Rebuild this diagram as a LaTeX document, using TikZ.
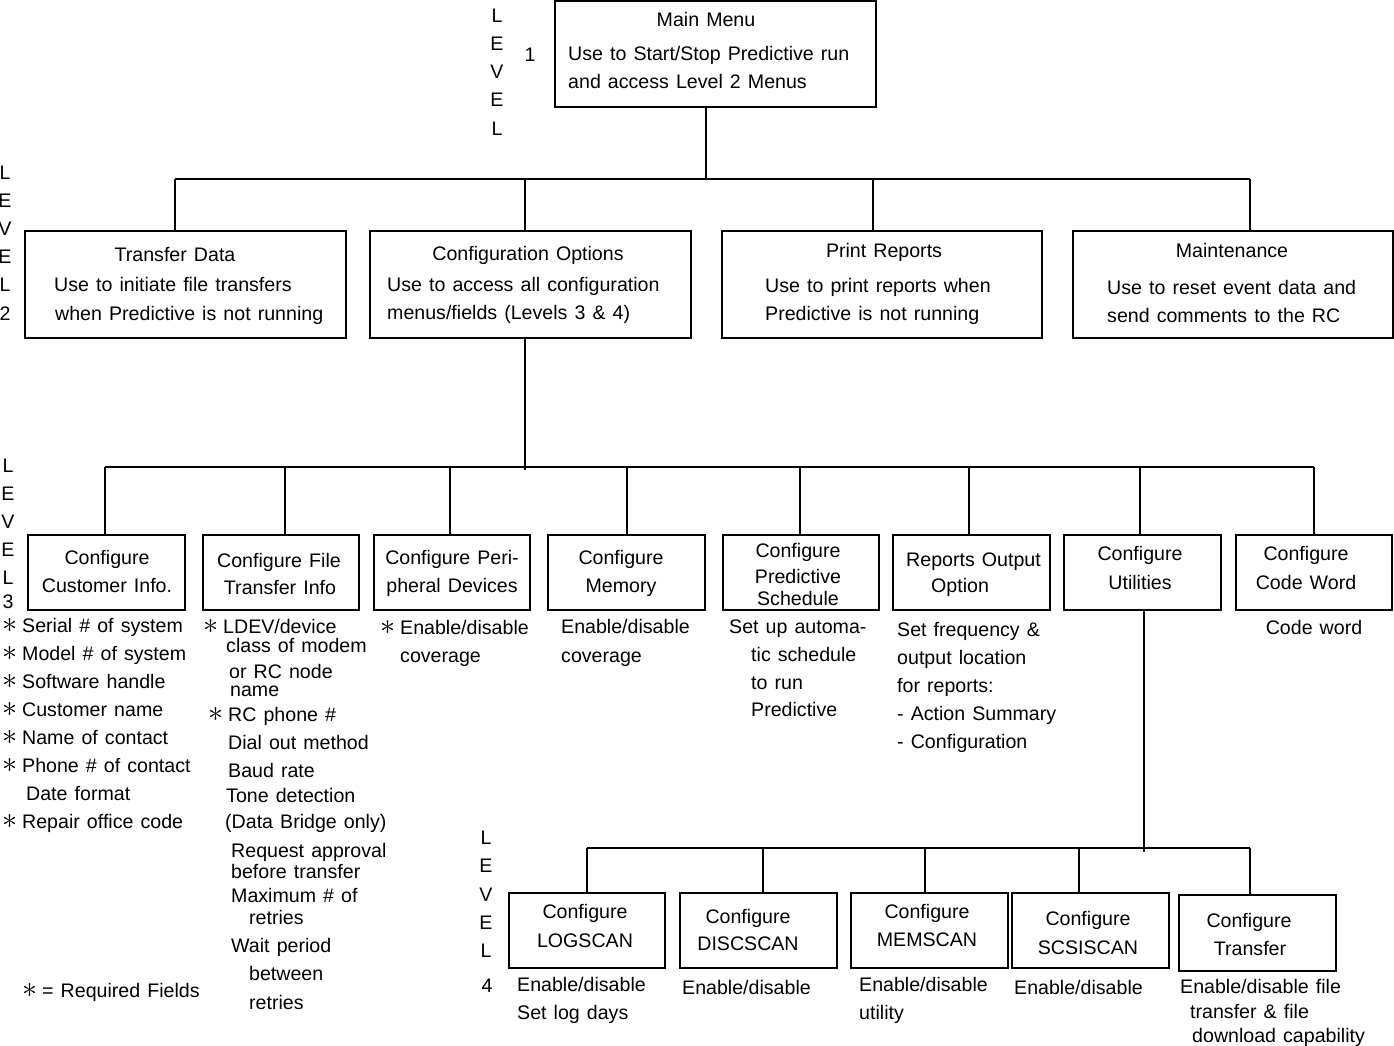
\documentclass[tikz,border=0pt]{standalone}
\usepackage{fontspec}
\setmainfont[WordSpace=1.3]{Liberation Sans}
\newcommand\tf{\fontsize{19.6}{24}\selectfont}
\newcommand\st{\makebox[20pt][l]{\scalebox{1.45}{$\ast$}}}
\tikzset{
  box/.style={draw, line width=1.3pt, inner sep=0pt},
  txt/.style={font=\tf, inner sep=0pt, anchor=base west},
  ctxt/.style={font=\tf, inner sep=0pt, anchor=base},
  conn/.style={line width=1.3pt},
}
\newcommand\bx[5]{\node[box, minimum width={(#4)-(#2)}, minimum height={(#5)-(#3)}] (#1) at ({((#2)+(#4))/2},{((#3)+(#5))/2}) {};}
\newcommand\tl[4]{\node[txt] (#1) at (#2,#3) {#4};}
\newcommand\tc[4]{\node[ctxt] (#1) at (#2,#3) {#4};}
\begin{document}
\begin{tikzpicture}[x=1pt,y=-1pt]
\useasboundingbox (0,0) rectangle (1394,1045);

% ---------- Level labels
\tc{la1}{497}{22}{L}\tc{la2}{497}{50}{E}\tc{la3}{497}{78}{V}\tc{la4}{497}{106}{E}\tc{la5}{497}{135}{L}
\tc{la6}{530}{61}{1}
\tc{lb1}{5}{179}{L}\tc{lb2}{5}{207}{E}\tc{lb3}{5}{235}{V}\tc{lb4}{5}{263}{E}\tc{lb5}{5}{291}{L}\tc{lb6}{5}{320}{2}
\tc{lc1}{8}{472}{L}\tc{lc2}{8}{500}{E}\tc{lc3}{8}{528}{V}\tc{lc4}{8}{556}{E}\tc{lc5}{8}{584}{L}\tc{lc6}{8}{608}{3}
\tc{ld1}{486}{844}{L}\tc{ld2}{486}{872}{E}\tc{ld3}{486}{901}{V}\tc{ld4}{486}{929}{E}\tc{ld5}{486}{957}{L}\tc{ld6}{487}{992}{4}

% ---------- Level 1
\bx{main}{555}{1}{876}{107}
\tc{m0}{706}{26}{Main Menu}
\tl{m1}{568}{60}{Use to Start/Stop Predictive run}
\tl{m2}{568}{88}{and access Level 2 Menus}

% ---------- Level 2
\bx{td}{25}{231}{346}{338}
\bx{co}{370}{231}{691}{338}
\bx{pr}{722}{231}{1042}{338}
\bx{mt}{1073}{231}{1393}{338}
\tc{td0}{175}{261}{Transfer Data}
\tl{td1}{54}{291}{Use to initiate file transfers}
\tl{td2}{55}{320}{when Predictive is not running}
\tc{co0}{528}{260}{Configuration Options}
\tl{co1}{387}{291}{Use to access all configuration}
\tl{co2}{387}{319}{menus/fields (Levels 3 \& 4)}
\tc{pr0}{884}{257}{Print Reports}
\tl{pr1}{765}{292}{Use to print reports when}
\tl{pr2}{765}{320}{Predictive is not running}
\tc{mt0}{1232}{257}{Maintenance}
\tl{mt1}{1107}{294}{Use to reset event data and}
\tl{mt2}{1107}{322}{send comments to the RC}

% ---------- Level 3
\bx{c1}{28}{535}{185}{610}
\bx{c2}{203}{535}{359}{610}
\bx{c3}{374}{535}{530}{610}
\bx{c4}{548}{535}{705}{610}
\bx{c5}{723}{535}{879}{610}
\bx{c6}{893}{535}{1050}{610}
\bx{c7}{1064}{535}{1221}{610}
\bx{c8}{1236}{535}{1392}{610}
\tc{c1a}{107}{564}{Configure}\tc{c1b}{107}{592}{Customer Info.}
\tc{c2a}{279}{567}{Configure File}\tc{c2b}{280}{594}{Transfer Info}
\tc{c3a}{452}{564}{Configure Peri-}\tc{c3b}{452}{592}{pheral Devices}
\tc{c4a}{621}{564}{Configure}\tc{c4b}{621}{592}{Memory}
\tc{c5a}{798}{557}{Configure}\tc{c5b}{798}{583}{Predictive}\tc{c5c}{798}{605}{Schedule}
\tl{c6a}{906}{566}{Reports Output}\tl{c6b}{931}{592}{Option}
\tc{c7a}{1140}{560}{Configure}\tc{c7b}{1140}{589}{Utilities}
\tc{c8a}{1306}{560}{Configure}\tc{c8b}{1306}{589}{Code Word}

% Customer info fields
\tl{f1}{2}{632}{\st Serial \# of system}
\tl{f2}{2}{660}{\st Model \# of system}
\tl{f3}{2}{688}{\st Software handle}
\tl{f4}{2}{716}{\st Customer name}
\tl{f5}{2}{744}{\st Name of contact}
\tl{f6}{2}{772}{\st Phone \# of contact}
\tl{f7}{26}{800}{Date format}
\tl{f8}{2}{828}{\st Repair office code}
\tl{req}{22}{997}{\st= Required Fields}

% File transfer fields
\tl{g1}{203}{633}{\st LDEV/device}
\tl{g2}{226}{652}{class of modem}
\tl{g3}{229}{678}{or RC node}
\tl{g4}{230}{696}{name}
\tl{g5}{208}{721}{\st RC phone \#}
\tl{g6}{228}{749}{Dial out method}
\tl{g7}{228}{777}{Baud rate}
\tl{g8}{226}{802}{Tone detection}
\tl{g9}{225}{828}{(Data Bridge only)}
\tl{g10}{231}{857}{Request approval}
\tl{g11}{231}{878}{before transfer}
\tl{g12}{231}{902}{Maximum \# of}
\tl{g13}{249}{924}{retries}
\tl{g14}{231}{952}{Wait period}
\tl{g15}{249}{980}{between}
\tl{g16}{249}{1009}{retries}

% Peripheral / Memory / Schedule / Reports / Code word
\tl{p1}{380}{634}{\st Enable/disable}
\tl{p2}{400}{662}{coverage}
\tl{q1}{561}{633}{Enable/disable}
\tl{q2}{561}{662}{coverage}
\tl{s1}{729}{633}{Set up automa-}
\tl{s2}{751}{661}{tic schedule}
\tl{s3}{751}{689}{to run}
\tl{s4}{751}{716}{Predictive}
\tl{r1}{897}{636}{Set frequency \&}
\tl{r2}{897}{664}{output location}
\tl{r3}{897}{692}{for reports:}
\tl{r4}{897}{720}{- Action Summary}
\tl{r5}{897}{748}{- Configuration}
\tc{k1}{1314}{634}{Code word}

% ---------- Level 4
\bx{l1}{509}{893}{665}{968}
\bx{l2}{680}{893}{837}{968}
\bx{l3}{851}{893}{1008}{968}
\bx{l4}{1012}{893}{1169}{968}
\bx{l5}{1179}{895}{1336}{971}
\tc{l1a}{585}{918}{Configure}\tc{l1b}{585}{947}{LOGSCAN}
\tc{l2a}{748}{923}{Configure}\tc{l2b}{748}{950}{DISCSCAN}
\tc{l3a}{927}{918}{Configure}\tc{l3b}{927}{946}{MEMSCAN}
\tc{l4a}{1088}{925}{Configure}\tc{l4b}{1088}{954}{SCSISCAN}
\tc{l5a}{1249}{927}{Configure}\tc{l5b}{1250}{955}{Transfer}
\tl{u1}{517}{991}{Enable/disable}
\tl{u2}{517}{1019}{Set log days}
\tl{u3}{682}{994}{Enable/disable}
\tl{u4}{859}{991}{Enable/disable}
\tl{u5}{859}{1019}{utility}
\tl{u6}{1014}{994}{Enable/disable}
\tl{u7}{1180}{993}{Enable/disable file}
\tl{u8}{1190}{1018}{transfer \& file}
\tl{u9}{1192}{1042}{download capability}

% ---------- Connectors level 1 -> 2
\coordinate (b1) at (706,179);
\coordinate (d1) at (175,179);
\coordinate (d2) at (525,179);
\coordinate (d3) at (873,179);
\coordinate (d4) at (1250,179);
\draw[conn] (b1 |- main.south) -- (b1);
\draw[conn] (d1) -- (d4);
\draw[conn] (d1) -- (d1 |- td.north);
\draw[conn] (d2) -- (d2 |- co.north);
\draw[conn] (d3) -- (d3 |- pr.north);
\draw[conn] (d4) -- (d4 |- mt.north);

% ---------- Connectors level 2 -> 3
\coordinate (b2) at (525,470);
\coordinate (e1) at (105,467);
\coordinate (e2) at (285,467);
\coordinate (e3) at (450,467);
\coordinate (e4) at (627,467);
\coordinate (e5) at (800,467);
\coordinate (e6) at (969,467);
\coordinate (e7) at (1140,467);
\coordinate (e8) at (1314,467);
\draw[conn] (b2 |- co.south) -- (b2);
\draw[conn] (e1) -- (e8);
\draw[conn] (e1) -- (e1 |- c1.north);
\draw[conn] (e2) -- (e2 |- c2.north);
\draw[conn] (e3) -- (e3 |- c3.north);
\draw[conn] (e4) -- (e4 |- c4.north);
\draw[conn] (e5) -- (e5 |- c5.north);
\draw[conn] (e6) -- (e6 |- c6.north);
\draw[conn] (e7) -- (e7 |- c7.north);
\draw[conn] (e8) -- (e8 |- c8.north);

% ---------- Connectors level 3 -> 4
\coordinate (b3) at (1144,852);
\coordinate (h1) at (587,848);
\coordinate (h2) at (763,848);
\coordinate (h3) at (925,848);
\coordinate (h4) at (1079,848);
\coordinate (h5) at (1250,848);
\draw[conn] (b3 |- c7.south) -- (b3);
\draw[conn] (h1) -- (h5);
\draw[conn] (h1) -- (h1 |- l1.north);
\draw[conn] (h2) -- (h2 |- l2.north);
\draw[conn] (h3) -- (h3 |- l3.north);
\draw[conn] (h4) -- (h4 |- l4.north);
\draw[conn] (h5) -- (h5 |- l5.north);
\end{tikzpicture}
\end{document}
